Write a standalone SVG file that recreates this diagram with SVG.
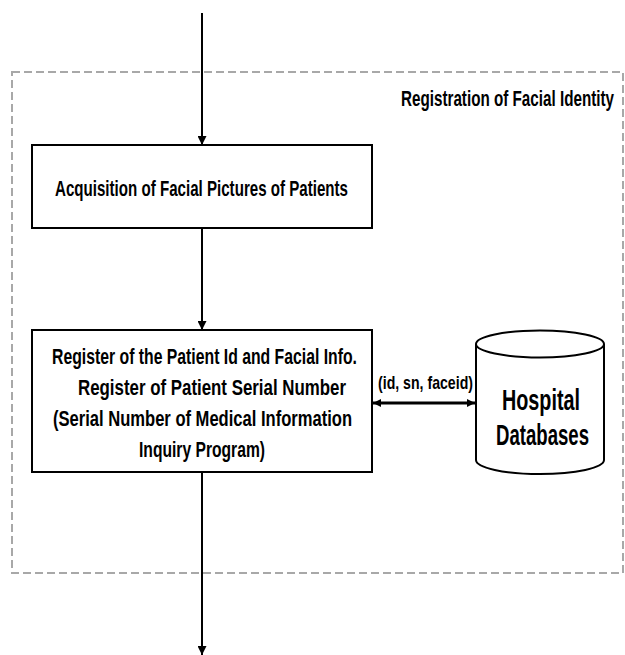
<svg xmlns="http://www.w3.org/2000/svg" width="625" height="655" viewBox="0 0 625 655">
<style>
.t{font-family:"Liberation Sans",Arial,sans-serif;font-weight:bold;fill:#000;}
.box{fill:#fff;stroke:#000;stroke-width:2;}
.ln{stroke:#000;stroke-width:2;fill:none;}
</style>
<defs>
<marker id="ah" viewBox="0 0 10 10" refX="10" refY="5" markerWidth="9" markerHeight="9" markerUnits="userSpaceOnUse" orient="auto">
<path d="M0,0 L10,5 L0,10 Z" fill="#000"/>
</marker>
<marker id="ah2" viewBox="0 0 10 10" refX="10" refY="5" markerWidth="8" markerHeight="8" markerUnits="userSpaceOnUse" orient="auto-start-reverse">
<path d="M0,0 L10,5 L0,10 Z" fill="#000"/>
</marker>
</defs>
<rect width="625" height="655" fill="#fff"/>
<g id="frame">
<rect x="12" y="72" width="611" height="501" fill="none" stroke="#a8a8a8" stroke-width="2" stroke-dasharray="8,4"/>
<text class="t" x="401" y="106" font-size="22" textLength="213" lengthAdjust="spacingAndGlyphs">Registration of Facial Identity</text>
</g>
<g id="connectors">
<line class="ln" x1="202" y1="13" x2="202" y2="145" marker-end="url(#ah)"/>
<line class="ln" x1="202" y1="228" x2="202" y2="330" marker-end="url(#ah)"/>
<line class="ln" x1="202" y1="472" x2="202" y2="655" marker-end="url(#ah)"/>
<line x1="373" y1="403" x2="475" y2="403" stroke="#000" stroke-width="3" marker-start="url(#ah2)" marker-end="url(#ah2)"/>
<text class="t" x="378" y="389" font-size="19" textLength="95" lengthAdjust="spacingAndGlyphs">(id, sn, faceid)</text>
</g>
<g id="acquisition">
<rect class="box" x="32" y="145" width="340" height="83"/>
<text class="t" x="55" y="196" font-size="22" textLength="293" lengthAdjust="spacingAndGlyphs">Acquisition of Facial Pictures of Patients</text>
</g>
<g id="register">
<rect class="box" x="32" y="330" width="340" height="142"/>
<text class="t" x="52" y="364" font-size="22" textLength="305" lengthAdjust="spacingAndGlyphs">Register of the Patient Id and Facial Info.</text>
<text class="t" x="78" y="395" font-size="22" textLength="268" lengthAdjust="spacingAndGlyphs">Register of Patient Serial Number</text>
<text class="t" x="53" y="426" font-size="22" textLength="299" lengthAdjust="spacingAndGlyphs">(Serial Number of Medical Information</text>
<text class="t" x="139" y="457" font-size="22" textLength="126" lengthAdjust="spacingAndGlyphs">Inquiry Program)</text>
</g>
<g id="database">
<path d="M476,344 L476,460 A64,14 0 0 0 604,460 L604,344" fill="#fff" stroke="#000" stroke-width="2"/>
<ellipse cx="540" cy="344" rx="64" ry="13.5" fill="#fff" stroke="#000" stroke-width="2"/>
<text class="t" x="502" y="410" font-size="30" textLength="78" lengthAdjust="spacingAndGlyphs">Hospital</text>
<text class="t" x="496" y="445" font-size="30" textLength="93" lengthAdjust="spacingAndGlyphs">Databases</text>
</g>
</svg>
